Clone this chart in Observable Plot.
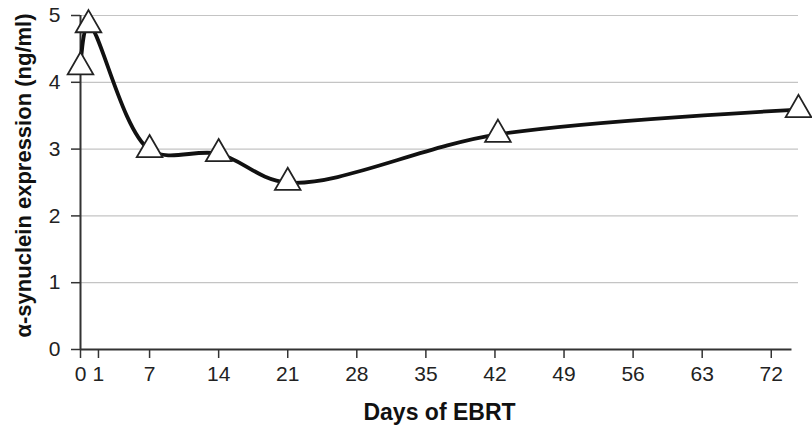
<!DOCTYPE html>
<html>
<head>
<meta charset="utf-8">
<script src="https://cdn.jsdelivr.net/npm/d3@7"></script>
<script src="https://cdn.jsdelivr.net/npm/@observablehq/plot@0.6"></script>
<style>
  html, body { margin: 0; padding: 0; background: #fff; }
  #chart svg { display: block; }
</style>
</head>
<body>
<div id="chart"></div>
<script>
// Data (x = position along the axis in day units as drawn, y = ng/ml)
const dayPositions = [0, 0.81, 7, 14, 21, 42.3, 72.76];
const synuclein = [4.23, 4.86, 2.99, 2.93, 2.50, 3.22, 3.59];

// Axis ticks: positions and their printed labels
const xTickPositions = [0, 1.82, 7, 14, 21, 28, 35, 42, 49, 56, 63, 70];
const xTickLabels = ["0", "1", "7", "14", "21", "28", "35", "42", "49", "56", "63", "72"];
const yTicks = [0, 1, 2, 3, 4, 5];
const gridValues = [1, 2, 3, 4, 5];

const xTitle = "Days of EBRT";
const yTitle = "α-synuclein expression (ng/ml)";

const data = dayPositions.map((d, i) => ({ x: d, y: synuclein[i] }));

const chart = Plot.plot({
  width: 812,
  height: 432,
  marginLeft: 80,
  marginRight: 14,
  marginTop: 15,
  marginBottom: 83,
  style: { fontFamily: "Liberation Sans, Arial, sans-serif", fontSize: "21px", color: "#222", background: "#fff", overflow: "visible" },
  x: { domain: [0, 72.76], axis: null },
  y: { domain: [0, 5], axis: null },
  marks: [
    Plot.ruleY(gridValues, { stroke: "#c4c4c4", strokeWidth: 1.2 }),
    Plot.axisY(yTicks, {
      anchor: "left", tickSize: 9, tickPadding: 11, stroke: "#333", strokeWidth: 1.5,
      fontSize: 21, fill: "#222", label: null, tickFormat: d => String(d)
    }),
    Plot.axisX(xTickPositions, {
      anchor: "bottom", tickSize: 9, tickPadding: 8, stroke: "#333", strokeWidth: 1.5,
      fontSize: 21, fill: "#222", label: null,
      tickFormat: (d, i) => xTickLabels[i]
    }),
    Plot.ruleX([0], { y1: 0, y2: 5, stroke: "#333", strokeWidth: 2 }),
    Plot.ruleY([0], { x1: 0, x2: 72.1, stroke: "#333", strokeWidth: 2 }),
    Plot.line(data, { x: "x", y: "y", curve: "catmull-rom", stroke: "#111", strokeWidth: 3.8 }),
    Plot.dot(data, { x: "x", y: "y", symbol: "triangle", r: 9.5, fill: "#fff", stroke: "#222", strokeWidth: 1.8 }),
    Plot.text([xTitle], { frameAnchor: "bottom", dy: 70, fontWeight: "bold", fontSize: 23, fill: "#111" }),
    Plot.text([yTitle], { frameAnchor: "left", textAnchor: "middle", rotate: -90, dx: -57, dy: -7, fontWeight: "bold", fontSize: 22, fill: "#111" })
  ]
});

document.getElementById("chart").appendChild(chart);
</script>
</body>
</html>
